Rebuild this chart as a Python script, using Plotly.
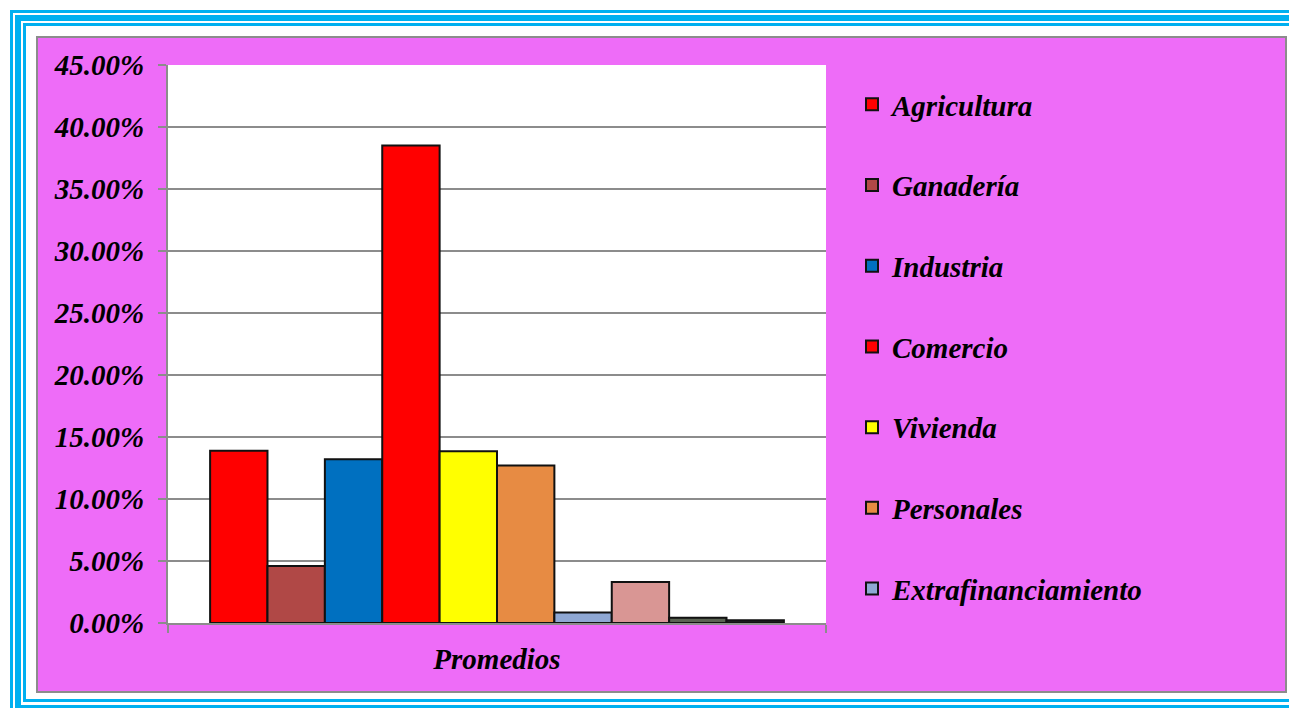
import plotly.graph_objects as go

# ---- data ----
category = ["Promedios"]
series_names = ["Agricultura", "Ganadería", "Industria", "Comercio", "Vivienda",
                "Personales", "Extrafinanciamiento", "Serie 8", "Serie 9", "Serie 10"]
series_values = [0.139, 0.046, 0.132, 0.385, 0.1385, 0.127, 0.0085, 0.033, 0.0043, 0.0022]
series_colors = ["#FF0000", "#B04846", "#0070C0", "#FF0000", "#FFFF00",
                 "#E78B43", "#8FA8D4", "#D99694", "#5A6352", "#1E1E1E"]
legend_shown = [True, True, True, True, True, True, True, False, False, False]
y_ticks = [0, 0.05, 0.10, 0.15, 0.20, 0.25, 0.30, 0.35, 0.40, 0.45]

W, H = 1297, 708
OFF = 8  # page body margin offset
L, R, T, B = 168 - OFF, 826 - OFF, 65 - OFF, 623 - OFF  # plot area in figure pixels


def px(x):
    return (x - OFF - L) / (R - L)


def py(y):
    return (B - (y - OFF)) / (B - T)


FONT = dict(family="Liberation Serif", size=29, color="black", weight="bold", style="italic")

fig = go.Figure()
for name, val, col, show in zip(series_names, series_values, series_colors, legend_shown):
    fig.add_trace(go.Bar(
        x=category, y=[val], name=name, legendgroup=name, showlegend=show,
        marker=dict(color=col, line=dict(color="#111111", width=2)),
        hovertemplate="%{y:.2%}<extra>" + name + "</extra>",
    ))

shapes = []
cyan = "#00B0F0"
shapes.append(dict(type="rect", xref="paper", yref="paper", layer="below",
                   x0=px(11.5), x1=px(1310), y0=py(11.5), y1=py(720),
                   line=dict(color=cyan, width=3)))
shapes.append(dict(type="rect", xref="paper", yref="paper", layer="below",
                   x0=px(18), x1=px(1297), y0=py(18), y1=py(708),
                   line=dict(color=cyan, width=6)))
shapes.append(dict(type="rect", xref="paper", yref="paper", layer="below",
                   x0=px(24.5), x1=px(1290.5), y0=py(24.5), y1=py(700.5),
                   line=dict(color=cyan, width=3)))
shapes.append(dict(type="rect", xref="paper", yref="paper", layer="below",
                   x0=px(37), x1=px(1286), y0=py(37), y1=py(692),
                   fillcolor="#EE6CF8", line=dict(color="#8C8C8C", width=2)))
shapes.append(dict(type="rect", xref="paper", yref="paper", layer="below",
                   x0=0, x1=1, y0=0, y1=1,
                   fillcolor="white", line=dict(width=0)))

fig.update_layout(
    width=W, height=H,
    margin=dict(l=L, r=W - R, t=T, b=H - B, pad=0),
    paper_bgcolor="white", plot_bgcolor="white",
    barmode="group", bargap=0.128, bargroupgap=0,
    shapes=shapes,
    showlegend=True,
    legend=dict(
        x=px(852), xanchor="left", y=py(79), yanchor="top",
        bgcolor="rgba(0,0,0,0)", font=FONT,
        traceorder="grouped", tracegroupgap=40,
    ),
    xaxis=dict(
        type="category", tickson="boundaries", ticks="outside", ticklen=8,
        tickcolor="#8C8C8C", tickwidth=2, showgrid=False,
        showline=True, linecolor="#8C8C8C", linewidth=2,
        tickfont=FONT, range=[-0.5, 0.5], fixedrange=True,
        ticklabelstandoff=9,
    ),
    yaxis=dict(
        range=[0, 0.45], tickvals=y_ticks, tickformat=".2%",
        ticks="outside", ticklen=8, tickcolor="#8C8C8C", tickwidth=2,
        showgrid=True, gridcolor="#8C8C8C", gridwidth=2,
        showline=True, linecolor="#8C8C8C", linewidth=2,
        zeroline=False, tickfont=FONT, ticklabelstandoff=8,
    ),
)

fig.write_html("out.html")
